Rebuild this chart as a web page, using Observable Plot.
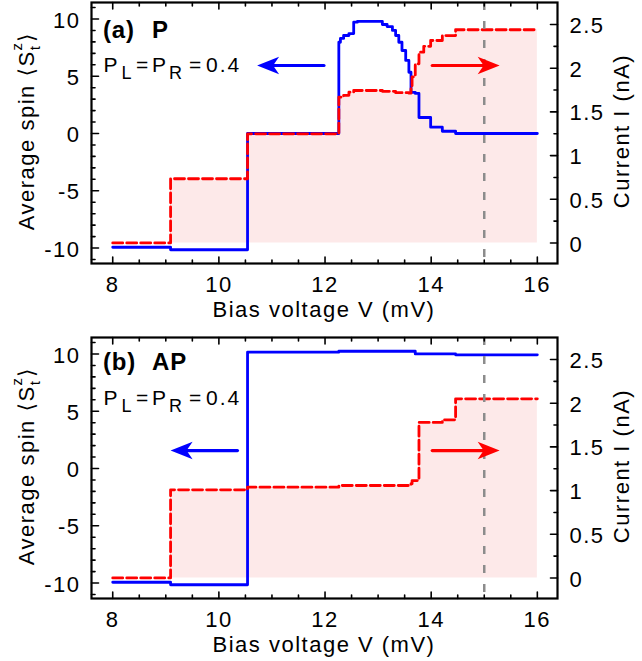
<!DOCTYPE html>
<html>
<head>
<meta charset="utf-8">
<script src="https://cdn.jsdelivr.net/npm/d3@7"></script>
<script src="https://cdn.jsdelivr.net/npm/@observablehq/plot@0.6"></script>
<style>
  body { margin: 0; background: #fff; }
  #chart { width: 642px; }
  #chart svg { display: block; }
</style>
</head>
<body>
<div id="chart"></div>
<script>
// ---------------- data ----------------
// Panel (a) P : average spin (left axis) vs bias voltage
const spinA_V = [8.0, 9.09, 10.54, 12.26, 12.29, 12.35, 12.45, 12.54, 12.61, 13.08, 13.17, 13.27, 13.33, 13.39, 13.45, 13.52, 13.58, 13.62, 13.70, 13.77, 13.99, 14.21, 14.46, 16.0];
const spinA   = [-9.93, -10.15, 0.0, 7.97, 8.3, 8.56, 8.73, 9.72, 9.8, 9.52, 9.34, 9.0, 8.56, 7.97, 7.25, 6.38, 5.35, 3.6, 3.5, 1.4, 0.55, 0.2, 0.0, 0.0];
// Panel (a) P : current (right axis)
const curA_V  = [8.0, 9.09, 10.54, 12.26, 12.35, 12.45, 12.54, 13.08, 13.33, 13.58, 13.62, 13.64, 13.70, 13.77, 13.86, 13.99, 14.21, 14.46, 16.0];
const curA    = [0.0, 0.735, 1.249, 1.668, 1.69, 1.725, 1.745, 1.735, 1.72, 1.714, 1.77, 1.90, 2.05, 2.183, 2.25, 2.317, 2.374, 2.44, 2.44];
// Panel (b) AP : average spin
const spinB_V = [8.0, 9.09, 10.54, 12.26, 13.70, 14.46, 16.0];
const spinB   = [-9.93, -10.15, 10.16, 10.24, 10.01, 9.93, 9.93];
// Panel (b) AP : current
const curB_V  = [8.0, 9.09, 10.54, 12.26, 13.62, 13.64, 13.77, 14.21, 14.46, 16.0];
const curB    = [0.0, 1.009, 1.039, 1.058, 1.078, 1.115, 1.78, 1.81, 2.05, 2.05];

// arrows (bias voltage from -> to, height in spin units)
const arrowsA_from = [11.98, 14.02];
const arrowsA_to   = [10.72, 15.29];
const arrowsA_y    = 5.94;
const arrowsB_from = [10.35, 14.02];
const arrowsB_to   = [9.09, 15.29];
const arrowsB_y    = 1.57;

// ticks
const xMajor = [8, 10, 12, 14, 16];
const xMinor = [8.5, 9, 9.5, 10.5, 11, 11.5, 12.5, 13, 13.5, 14.5, 15, 15.5];
const spinMajor = [-10, -5, 0, 5, 10];
const spinMinor = [-11, -9, -8, -7, -6, -4, -3, -2, -1, 1, 2, 3, 4, 6, 7, 8, 9, 11];
const curMajor = [0, 0.5, 1, 1.5, 2, 2.5];
const curMinor = [0.25, 0.75, 1.25, 1.75, 2.25];
const markerV = 15;

// ---------------- scales ----------------
const xDomain = [7.6, 16.38];
const yDomain = [-11.35, 11.44];
const curDomain = [-0.235, 2.752];
const cur2y = d3.scaleLinear().domain(curDomain).range(yDomain);

const BLUE = "#0000ff", RED = "#ff0000";
const FONT = "'Liberation Sans', Arial, Helvetica, 'DejaVu Sans', sans-serif";

const tickShape = {draw(ctx, l) { ctx.moveTo(0, 0); ctx.lineTo(0, -l); }};
const headSymbol = {draw(ctx, size) {
  const r = Math.sqrt(size / Math.PI);
  const L = 2.2 * r, Wd = 0.87 * r, n = 0.6 * r;
  ctx.moveTo(0, 0); ctx.lineTo(-L, -Wd); ctx.lineTo(-L + n, 0); ctx.lineTo(-L, Wd); ctx.closePath();
}};

function tickMarks(values, channel, anchor, len) {
  const rot = {bottom: 0, top: 180, left: 90, right: -90}[anchor];
  return Plot.vector(values, {[channel]: d => d, frameAnchor: anchor, anchor: "start", rotate: rot,
    length: len, shape: tickShape, stroke: "black", strokeWidth: 1.6});
}

function arrowMarks(from, to, y, i, color) {
  const d = [{x1: from[i], x2: to[i], y}];
  return [
    Plot.arrow(d, {x1: "x1", x2: "x2", y1: "y", y2: "y", headLength: 0, insetEnd: 14, stroke: color, strokeWidth: 3.2}),
    Plot.dot(d, {x: "x2", y: "y", r: 10, symbol: headSymbol, rotate: to[i] < from[i] ? 180 : 0, fill: color, stroke: "none"})
  ];
}

function panel(o) {
  const blue = o.spinV.map((v, i) => ({v, s: o.spin[i]}));
  const red = o.curV.map((v, i) => ({v, c: o.cur[i]}));
  return Plot.plot({
    width: 642, height: o.height,
    marginLeft: 91, marginRight: 85, marginTop: 2, marginBottom: o.height - 263,
    x: {domain: xDomain},
    y: {domain: yDomain},
    style: {fontFamily: FONT, fontSize: "22px", color: "black", background: "white", letterSpacing: "1.5px", overflow: "visible"},
    marks: [
      Plot.areaY(red, {x: "v", y1: () => cur2y(0), y2: d => cur2y(d.c), curve: "step-after", fill: "#fde9e9"}),
      Plot.line(blue, {x: "v", y: "s", curve: "step-after", stroke: BLUE, strokeWidth: 2.8}),
      Plot.line(red, {x: "v", y: d => cur2y(d.c), curve: "step-after", stroke: RED, strokeWidth: 2.8, strokeDasharray: "10,4"}),
      Plot.ruleX([markerV], {stroke: "#8c8c8c", strokeWidth: 2.5, strokeDasharray: "8,11"}),
      ...arrowMarks(o.aFrom, o.aTo, o.aY, 0, BLUE),
      ...arrowMarks(o.aFrom, o.aTo, o.aY, 1, RED),
      tickMarks(xMajor, "x", "bottom", 6.5),
      tickMarks(xMinor, "x", "bottom", 3.5),
      tickMarks(xMajor, "x", "top", 6.5),
      tickMarks(xMinor, "x", "top", 3.5),
      tickMarks(spinMajor, "y", "left", 7),
      tickMarks(spinMinor, "y", "left", 3.5),
      tickMarks(curMajor.map(c => cur2y(c)), "y", "right", 7),
      tickMarks(curMinor.map(c => cur2y(c)), "y", "right", 3.5),
      Plot.frame({stroke: "black", strokeWidth: 2.2}),
      Plot.axisX({ticks: xMajor, tickSize: 0, tickPadding: 13, tickFormat: d => String(d), label: null}),
      Plot.axisY({anchor: "left", ticks: spinMajor, tickSize: 0, tickPadding: 11, dy: 1.5, tickFormat: d => String(d), label: null}),
      Plot.axisY({anchor: "right", ticks: curMajor.map(c => cur2y(c)), tickSize: 0, tickPadding: 12, dy: 1.5,
        tickFormat: v => String(+cur2y.invert(v).toFixed(2)), label: null})
    ]
  });
}

function decorate(svg, o) {
  const s = d3.select(svg);
  // x title
  s.append("text").attr("x", 324).attr("y", 317).attr("text-anchor", "middle")
    .style("font-size", "22px").text("Bias voltage V (mV)");
  // left title
  const lt = s.append("text").attr("transform", "translate(34,131) rotate(-90)").attr("text-anchor", "middle")
    .style("font-size", "22px");
  lt.append("tspan").text("Average spin \u27E8S");
  lt.append("tspan").attr("dy", 6).style("font-size", "15px").style("letter-spacing", "0px").text("t");
  lt.append("tspan").attr("dx", -4.2).attr("dy", -18).style("font-size", "15px").style("letter-spacing", "0px").text("z");
  lt.append("tspan").attr("dy", 12).attr("dx", 1).text("\u27E9");
  // right title
  s.append("text").attr("transform", "translate(629,131) rotate(-90)").attr("text-anchor", "middle")
    .style("font-size", "22px").text("Current I (nA)");
  // panel tag
  const tg = s.append("g").attr("text-anchor", "start").style("font-size", "24px").style("font-weight", "700").style("letter-spacing", "0.8px");
  tg.append("text").attr("x", 103).attr("y", o.tagY).text(o.tag1);
  tg.append("text").attr("x", 152).attr("y", o.tagY).text(o.tag2);
  // polarization label
  const pg = s.append("g").attr("text-anchor", "start");
  const base = o.polY;
  const parts = [
    ["P", 103.5, base, 21], ["L", 121.5, base + 7, 18], ["=", 136, base, 21],
    ["P", 152, base, 21], ["R", 169, base + 7, 18], ["=", 189, base, 21], ["0.4", 206, base, 21]
  ];
  for (const [t, x, y, fs] of parts) {
    pg.append("text").attr("x", x).attr("y", y).style("font-size", fs + "px")
      .style("letter-spacing", t === "0.4" ? "2px" : "0px").text(t);
  }
}

const svgA = panel({spinV: spinA_V, spin: spinA, curV: curA_V, cur: curA, height: 335,
  aFrom: arrowsA_from, aTo: arrowsA_to, aY: arrowsA_y});
decorate(svgA, {tag1: "(a)", tag2: "P", tagY: 37.5, polY: 71.5});
const svgB = panel({spinV: spinB_V, spin: spinB, curV: curB_V, cur: curB, height: 326,
  aFrom: arrowsB_from, aTo: arrowsB_to, aY: arrowsB_y});
decorate(svgB, {tag1: "(b)", tag2: "AP", tagY: 34.5, polY: 70});

const chart = document.getElementById("chart");
chart.append(svgA, svgB);
</script>
</body>
</html>
